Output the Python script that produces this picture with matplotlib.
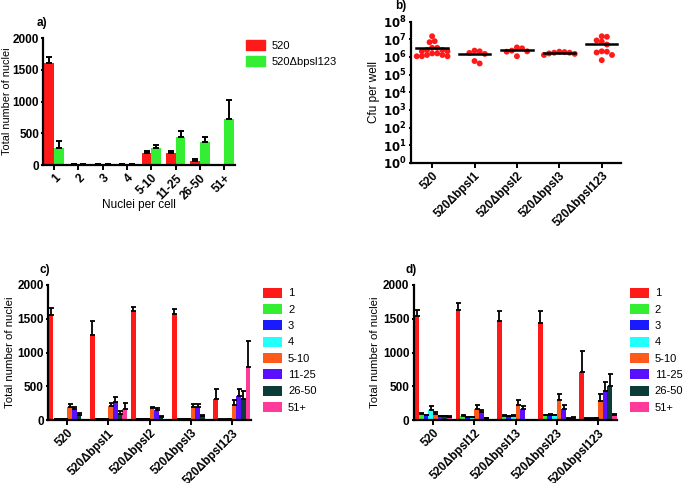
import numpy as np
import matplotlib
matplotlib.use('Agg')
import matplotlib.pyplot as plt
from matplotlib.patches import Patch

plt.rcParams['font.family'] = ['Liberation Sans', 'DejaVu Sans']
plt.rcParams['font.size'] = 8

# ---- panel a data ----
a_classes = ['1', '2', '3', '4', '5-10', '11-25', '26-50', '51+']
a_wt = [1615, 20, 15, 20, 195, 190, 72, 0]
a_wt_err = [85, 5, 5, 5, 22, 30, 18, 0]
a_mut = [268, 10, 15, 10, 263, 440, 365, 735]
a_mut_err = [105, 4, 4, 4, 58, 92, 82, 295]
a_names = ['520', '520\u0394bpsl123']

# ---- panel b data (cfu per well) ----
b_strains = ['520', '520\u0394bpsl1', '520\u0394bpsl2', '520\u0394bpsl3', '520\u0394bpsl123']
b_520 = [1.5e7, 7.9e6, 6.9e6, 3.3e6, 2.5e6, 2.1e6, 1.6e6, 1.3e6, 1.1e6, 1.1e6,
         1.1e6, 1.3e6, 1.6e6, 2.1e6, 2.5e6, 3.3e6]
b_d1 = [2.3e6, 1.5e6, 1.7e6, 2.1e6, 4.3e5, 5.9e5]
b_d2 = [3.1e6, 2.1e6, 3.5e6, 1.1e6, 2.0e6, 2.3e6]
b_d3 = [1.75e6, 1.5e6, 1.9e6, 1.3e6, 1.75e6, 2.0e6, 1.6e6]
b_d123 = [1.4e7, 7.4e6, 8.7e6, 1.5e7, 5.1e6, 2.1e6, 1.8e6, 2.0e6, 1.3e6, 6.6e5]

# ---- panel c data ----
c_strains = ['520', '520\u0394bpsl1', '520\u0394bpsl2', '520\u0394bpsl3', '520\u0394bpsl123']
c_means = [
    [1562, 1256, 1616, 1567, 311],
    [15, 15, 15, 20, 10],
    [15, 15, 20, 15, 10],
    [20, 20, 20, 20, 12],
    [197, 217, 177, 197, 232],
    [163, 266, 153, 197, 355],
    [79, 99, 54, 69, 321],
    [0, 163, 0, 0, 790],
]
c_errs = [
    [93, 212, 54, 73, 144],
    [5, 5, 5, 5, 3],
    [5, 5, 5, 5, 3],
    [5, 5, 5, 5, 3],
    [39, 39, 25, 39, 74],
    [39, 84, 34, 39, 100],
    [24, 39, 8, 8, 109],
    [0, 98, 0, 0, 382],
]

# ---- panel d data ----
d_strains = ['520', '520\u0394bpsl12', '520\u0394bpsl13', '520\u0394bpsl23', '520\u0394bpsl123']
d_means = [
    [1542, 1631, 1463, 1443, 706],
    [95, 62, 69, 74, 25],
    [74, 44, 64, 84, 25],
    [158, 49, 64, 74, 30],
    [99, 173, 232, 296, 281],
    [59, 123, 163, 163, 430],
    [59, 30, 0, 25, 504],
    [52, 0, 0, 40, 74],
]
d_errs = [
    [84, 108, 148, 173, 321],
    [14, 10, 10, 10, 5],
    [5, 5, 5, 5, 5],
    [54, 5, 10, 10, 5],
    [19, 59, 68, 99, 104],
    [10, 35, 54, 69, 128],
    [10, 3, 0, 5, 173],
    [5, 0, 0, 5, 15],
]

size_classes = ['1', '2', '3', '4', '5-10', '11-25', '26-50', '51+']
class_colors = ['#ff1a1a', '#33ee33', '#1a1aff', '#22ffff', '#ff5a1a', '#5a10ff', '#0a3d38', '#ff3a9a']


def style_axes(ax):
    for s in ['top', 'right']:
        ax.spines[s].set_visible(False)
    for s in ['left', 'bottom']:
        ax.spines[s].set_linewidth(1.6)
    ax.tick_params(axis='x', width=1.4, length=3.5, pad=1.5, direction='out')
    ax.tick_params(axis='y', width=1.4, length=1.5, pad=1.5, direction='out',
                   labelsize=8.5)
    for lab in ax.get_yticklabels():
        lab.set_fontweight('bold')


def rot_labels(ax, labels, x, size=8.5):
    ax.set_xticks(x)
    ax.set_xticklabels(labels, rotation=45, ha='right', rotation_mode='anchor',
                       fontweight='bold', fontsize=size)


def side_legend(ax, handles, xa, ya):
    ax.legend(handles=handles, loc='upper left', bbox_to_anchor=(xa, ya),
              frameon=False, fontsize=8, handlelength=1.7, handleheight=1.0,
              handletextpad=0.55, labelspacing=0.5, borderpad=0, borderaxespad=0)


fig = plt.figure(figsize=(6.86, 4.83), dpi=100)

# ---------- a ----------
ax = fig.add_axes([0.063, 0.658, 0.280, 0.263])
x = np.arange(len(a_classes))
w = 0.4
ax.bar(x - w / 2, a_wt, w, color='#ff1a1a', yerr=[np.zeros(8), a_wt_err],
       error_kw=dict(ecolor='k', elinewidth=1.4, capsize=2.5, capthick=1.4))
ax.bar(x + w / 2, a_mut, w, color='#33ee33', yerr=[np.zeros(8), a_mut_err],
       error_kw=dict(ecolor='k', elinewidth=1.4, capsize=2.5, capthick=1.4))
ax.set_xlim(-0.45, 7.45)
ax.set_ylim(0, 2000)
ax.set_yticks([0, 500, 1000, 1500, 2000])
ax.set_ylabel('Total number of nuclei', fontsize=7.8)
ax.yaxis.set_label_coords(-0.16, 0.5)
ax.set_xlabel('Nuclei per cell', fontsize=8.5)
ax.xaxis.set_label_coords(0.5, -0.27)
style_axes(ax)
rot_labels(ax, a_classes, x, 8.5)
side_legend(ax, [Patch(color='#ff1a1a', label=a_names[0]),
                 Patch(color='#33ee33', label=a_names[1])], 1.057, 0.985)
ax.text(-0.036, 1.07, 'a)', transform=ax.transAxes, fontsize=8.5,
        fontweight='bold', va='bottom')

# ---------- b ----------
ax = fig.add_axes([0.599, 0.663, 0.306, 0.292])
ax.set_yscale('log')
ax.set_ylim(1, 1e8)
ax.set_xlim(-0.5, 4.45)
px_x = 43.0      # pixels per category
px_dec = 17.6    # pixels per decade
diam = 5.2
groups = [b_520, b_d1, b_d2, b_d3, b_d123]
for gi, vals in enumerate(groups):
    vals = np.array(vals)
    ys = np.log10(vals) * px_dec
    placed = []
    offs = np.zeros(len(vals))
    for i in np.argsort(-vals):
        cands = [0.0]
        for k in range(1, 10):
            cands += [k * diam * 0.5, -k * diam * 0.5]
        for c in cands:
            if all((c - px) ** 2 + (ys[i] - py) ** 2 >= (diam * 0.95) ** 2 for px, py in placed):
                offs[i] = c
                placed.append((c, ys[i]))
                break
    ax.scatter(gi + offs / px_x, vals, s=18, color='#ff1a1a', edgecolors='none', zorder=3)
    ax.plot([gi - 0.37, gi + 0.37], [vals.mean()] * 2, color='k', lw=1.8, zorder=4)
ax.set_yticks([10.0 ** k for k in range(9)])
ax.set_yticklabels([r'$\mathbf{10^{%d}}$' % k for k in range(9)])
ax.minorticks_off()
ax.set_ylabel('Cfu per well', fontsize=8.5)
ax.yaxis.set_label_coords(-0.148, 0.5)
style_axes(ax)
rot_labels(ax, b_strains, np.arange(5))
ax.text(-0.076, 1.07, 'b)', transform=ax.transAxes, fontsize=8.5,
        fontweight='bold', va='bottom')


def grouped(ax, strains, means, errs, label, ylab_x, leg_x):
    step = 0.113
    xg = np.arange(len(strains))
    for k in range(len(size_classes)):
        ax.bar(xg + (k - 3.5) * step, means[k], step, color=class_colors[k],
               yerr=[np.zeros(len(strains)), errs[k]], label=size_classes[k],
               error_kw=dict(ecolor='k', elinewidth=1.3, capsize=1.8, capthick=1.3))
    ax.set_xlim(-0.47, 4.47)
    ax.set_ylim(0, 2000)
    ax.set_yticks([0, 500, 1000, 1500, 2000])
    ax.set_ylabel('Total number of nuclei', fontsize=8.2)
    ax.yaxis.set_label_coords(ylab_x, 0.5)
    style_axes(ax)
    rot_labels(ax, strains, xg)
    h, l = ax.get_legend_handles_labels()
    side_legend(ax, h, leg_x, 0.98)
    ax.text(-0.04, 1.07, label, transform=ax.transAxes, fontsize=8.5,
            fontweight='bold', va='bottom')


ax = fig.add_axes([0.070, 0.130, 0.296, 0.280])
grouped(ax, c_strains, c_means, c_errs, 'c)', -0.165, 1.059)
ax = fig.add_axes([0.603, 0.130, 0.297, 0.280])
grouped(ax, d_strains, d_means, d_errs, 'd)', -0.167, 1.06)

fig.savefig('out.png', dpi=100)
